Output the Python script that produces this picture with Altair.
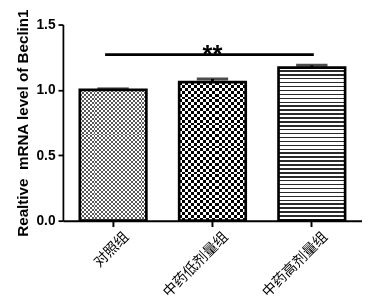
import altair as alt
import pandas as pd

# ---- data ----
groups = ["对照组", "中药低剂量组", "中药高剂量组"]
means = [1.00, 1.06, 1.17]
errs = [0.008, 0.024, 0.018]
sig_from = "对照组"
sig_to = "中药高剂量组"
sig_mid = "中药低剂量组"
sig_y = [1.27]
sig_text = ["**"]
y_ticks = [0.0, 0.5, 1.0, 1.5]
y_title = "Realtive\u00a0 mRNA level of Beclin1"

df = pd.DataFrame({"group": groups, "mean": means, "err": errs})
df["upper"] = df["mean"] + df["err"]
sig_df = pd.DataFrame({"g1": [sig_from], "g2": [sig_to], "gm": [sig_mid], "y": sig_y, "label": sig_text})

W, H = 305, 200
YMAX = 1.5
PI, PO = 0.33, 0.17
step = W / (len(groups) - PI + 2 * PO)
bw = step * (1 - PI)

xsc = alt.Scale(domain=groups, paddingInner=PI, paddingOuter=PO)
ysc = alt.Scale(domain=[0, YMAX], nice=False)

X = alt.X("group:N", scale=xsc, sort=groups, title=None,
          axis=alt.Axis(labelAngle=-45, labelAlign="right", labelBaseline="top",
                        labelFont="Noto Sans CJK SC", labelFontSize=14.5, labelColor="black",
                        labelPadding=3, tickSize=6, tickWidth=2, domainWidth=2,
                        tickColor="black", domainColor="black", labelOffset=9))
Y = alt.Y("mean:Q", scale=ysc, title=y_title,
          axis=alt.Axis(values=y_ticks, format=".1f", grid=False,
                        labelFont="Liberation Sans", labelFontWeight="bold", labelFontSize=14,
                        labelColor="black", labelPadding=3, tickSize=5, tickWidth=1.8,
                        domainWidth=1.8, tickColor="black", domainColor="black",
                        titleFont="Liberation Sans", titleFontWeight="bold", titleFontSize=15.5,
                        titleColor="black", titlePadding=6))


def bands(n, horizontal, c1, c2, frac=0.5):
    stops = []
    for k in range(n):
        a = k / n
        m = (k + frac) / n
        b = (k + 1) / n
        stops += [alt.GradientStop(offset=a, color=c1), alt.GradientStop(offset=m, color=c1),
                  alt.GradientStop(offset=m, color=c2), alt.GradientStop(offset=b, color=c2)]
    if horizontal:  # columns across x
        return alt.Gradient(gradient="linear", x1=0, y1=0, x2=1, y2=0, stops=stops)
    return alt.Gradient(gradient="linear", x1=0, y1=0, x2=0, y2=1, stops=stops)


def px(v):
    return v * H / YMAX


base = alt.Chart(df)
layers = []

# bar 1: fine checker, lightened
g = groups[0]
f = base.transform_filter(alt.datum.group == g)
n_c = max(2, round(bw / 4))
n_r = max(2, round(px(means[0]) / 4))
layers.append(f.mark_bar(fill=bands(n_c, True, "white", "black")).encode(x=X, y=Y))
layers.append(f.mark_bar(fill=bands(n_r, False, "white", "black"), blend="difference").encode(x=X, y=Y))
layers.append(f.mark_bar(fill="white", fillOpacity=0.35).encode(x=X, y=Y))

# bar 2: coarse checker
g = groups[1]
f = base.transform_filter(alt.datum.group == g)
n_c = max(2, round(bw / 6))
n_r = max(2, round(px(means[1]) / 6))
layers.append(f.mark_bar(fill=bands(n_c, True, "white", "black")).encode(x=X, y=Y))
layers.append(f.mark_bar(fill=bands(n_r, False, "white", "black"), blend="difference").encode(x=X, y=Y))

# bar 3: horizontal stripes
g = groups[2]
f = base.transform_filter(alt.datum.group == g)
n_r = max(2, round(px(means[2]) / 4))
layers.append(f.mark_bar(fill=bands(n_r, False, "white", "#2a2a2a", 0.62)).encode(x=X, y=Y))

# borders
layers.append(base.mark_bar(fillOpacity=0, stroke="black", strokeWidth=2.7).encode(x=X, y=Y))

# error bars (upper only)
layers.append(base.mark_rule(color="black", strokeWidth=3).encode(
    x=alt.X("group:N", scale=xsc, sort=groups), y=alt.Y("mean:Q", scale=ysc), y2="upper:Q"))
layers.append(base.mark_tick(orient="horizontal", size=32, thickness=3, color="black").encode(
    x=alt.X("group:N", scale=xsc, sort=groups), y=alt.Y("upper:Q", scale=ysc)))

# significance line and stars
sig = alt.Chart(sig_df)
layers.append(sig.mark_rule(color="black", strokeWidth=3).encode(
    x=alt.X("g1:N", scale=xsc, sort=groups, bandPosition=0.38),
    x2=alt.X2("g2:N", bandPosition=0.53),
    y=alt.Y("y:Q", scale=ysc)))
layers.append(sig.mark_text(font="Liberation Sans", fontWeight="bold", fontSize=26,
                            baseline="alphabetic", dy=9, color="black").encode(
    x=alt.X("gm:N", scale=xsc, sort=groups, bandPosition=0.5),
    y=alt.Y("y:Q", scale=ysc), text="label:N"))

chart = alt.layer(*layers).resolve_scale(x="shared", y="shared").properties(
    width=W, height=H,
    autosize=alt.AutoSizeParams(type="none"),
    padding={"left": 56, "top": 14, "right": 0, "bottom": 77},
    background="white",
).configure_view(stroke=None)

chart.save("out.html", embed_options={"renderer": "svg", "actions": False})
